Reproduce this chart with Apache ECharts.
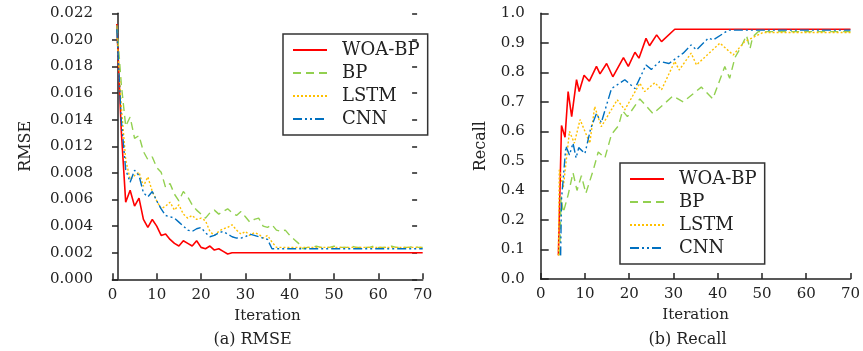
<!DOCTYPE html>
<html>
<head>
<meta charset="utf-8">
<script src="https://cdn.jsdelivr.net/npm/echarts@6/dist/echarts.min.js"></script>
<style>
    body { margin: 0; background: #fff; }
    #main { width: 863px; height: 351px; }
</style>
</head>
<body>
<div id="main"></div>
<script>
// tick labels as printed on the figure (note 0.010 and 0.3 are skipped on the original axes)
var rmseTicks = [0, 0.002, 0.004, 0.006, 0.008, 0.012, 0.014, 0.016, 0.018, 0.020, 0.022];
var rmseTickLabels = ['0.000', '0.002', '0.004', '0.006', '0.008', '0.012', '0.014', '0.016', '0.018', '0.020', '0.022'];
var recallTicks = [0, 0.1, 0.2, 0.4, 0.5, 0.6, 0.7, 0.8, 0.9, 1.0];
var recallTickLabels = ['0.0', '0.1', '0.2', '0.4', '0.5', '0.6', '0.7', '0.8', '0.9', '1.0'];
var names = ['WOA-BP', 'BP', 'LSTM', 'CNN'];

// RMSE per iteration (1..70)
var rmseWoaBp = [
    0.0212, 0.0132, 0.0058, 0.0067, 0.0055, 0.0061, 0.0045, 0.0039, 0.0045, 0.0040,
    0.0033, 0.0034, 0.0030, 0.0027, 0.0025, 0.0029, 0.0027, 0.0025, 0.0029, 0.0024,
    0.0023, 0.0025, 0.0022, 0.0023, 0.0021, 0.0019, 0.0020, 0.0020, 0.0020, 0.0020,
    0.0020, 0.0020, 0.0020, 0.0020, 0.0020, 0.0020, 0.0020, 0.0020, 0.0020, 0.0020,
    0.0020, 0.0020, 0.0020, 0.0020, 0.0020, 0.0020, 0.0020, 0.0020, 0.0020, 0.0020,
    0.0020, 0.0020, 0.0020, 0.0020, 0.0020, 0.0020, 0.0020, 0.0020, 0.0020, 0.0020,
    0.0020, 0.0020, 0.0020, 0.0020, 0.0020, 0.0020, 0.0020, 0.0020, 0.0020, 0.0020
];
var rmseBp = [
    0.0211, 0.0167, 0.0135, 0.0142, 0.0126, 0.0128, 0.0112, 0.0100, 0.0104, 0.0088,
    0.0081, 0.0069, 0.0072, 0.0064, 0.0059, 0.0066, 0.0062, 0.0056, 0.0052, 0.0049,
    0.0046, 0.0050, 0.0052, 0.0049, 0.0051, 0.0053, 0.0050, 0.0048, 0.0051, 0.0047,
    0.0043, 0.0045, 0.0046, 0.0040, 0.0039, 0.0041, 0.0037, 0.0036, 0.0037, 0.0033,
    0.0030, 0.0027, 0.0023, 0.0024, 0.0024, 0.0025, 0.0024, 0.0024, 0.0024, 0.0025,
    0.0024, 0.0024, 0.0024, 0.0025, 0.0024, 0.0024, 0.0024, 0.0024, 0.0025, 0.0024,
    0.0024, 0.0024, 0.0025, 0.0024, 0.0024, 0.0024, 0.0024, 0.0025, 0.0024, 0.0024
];
var rmseLstm = [
    0.0205, 0.0150, 0.0100, 0.0075, 0.0078, 0.0081, 0.0070, 0.0077, 0.0066, 0.0059,
    0.0053, 0.0055, 0.0058, 0.0052, 0.0056, 0.0049, 0.0046, 0.0048, 0.0045, 0.0046,
    0.0044, 0.0036, 0.0033, 0.0036, 0.0038, 0.0039, 0.0041, 0.0037, 0.0034, 0.0036,
    0.0033, 0.0035, 0.0034, 0.0031, 0.0033, 0.0028, 0.0024, 0.0024, 0.0024, 0.0024,
    0.0024, 0.0024, 0.0024, 0.0024, 0.0024, 0.0024, 0.0024, 0.0024, 0.0024, 0.0024,
    0.0024, 0.0024, 0.0024, 0.0024, 0.0024, 0.0024, 0.0024, 0.0024, 0.0024, 0.0024,
    0.0024, 0.0024, 0.0024, 0.0024, 0.0024, 0.0024, 0.0024, 0.0024, 0.0024, 0.0024
];
var rmseCnn = [
    0.0208, 0.0140, 0.0085, 0.0073, 0.0084, 0.0078, 0.0065, 0.0062, 0.0066, 0.0059,
    0.0053, 0.0048, 0.0047, 0.0046, 0.0043, 0.0040, 0.0037, 0.0036, 0.0038, 0.0039,
    0.0035, 0.0032, 0.0033, 0.0035, 0.0036, 0.0034, 0.0032, 0.0031, 0.0031, 0.0032,
    0.0034, 0.0033, 0.0032, 0.0031, 0.0030, 0.0023, 0.0023, 0.0023, 0.0023, 0.0023,
    0.0023, 0.0023, 0.0023, 0.0023, 0.0023, 0.0023, 0.0023, 0.0023, 0.0023, 0.0023,
    0.0023, 0.0023, 0.0023, 0.0023, 0.0023, 0.0023, 0.0023, 0.0023, 0.0023, 0.0023,
    0.0023, 0.0023, 0.0023, 0.0023, 0.0023, 0.0023, 0.0023, 0.0023, 0.0023, 0.0023
];

// Recall as [iteration, recall]
var recallWoaBp = [[4, 0.08], [4.7, 0.62], [5.5, 0.58], [6.2, 0.735], [7, 0.65], [8.1, 0.775], [8.7, 0.735],
    [9.8, 0.79], [11, 0.77], [12.6, 0.82], [13.4, 0.795], [14.9, 0.83], [16.3, 0.785], [18.7, 0.85],
    [19.8, 0.82], [21.3, 0.868], [22.2, 0.848], [23.8, 0.915], [24.6, 0.89], [26.2, 0.927],
    [27.3, 0.904], [30.3, 0.946], [70, 0.946]];
var recallBp = [[4.3, 0.08], [4.6, 0.36], [5.1, 0.25], [6.2, 0.37], [7.3, 0.46], [8.2, 0.40], [9.2, 0.45],
    [10.2, 0.38], [11.9, 0.47], [13, 0.53], [14.5, 0.51], [16, 0.59], [17.6, 0.62], [18.5, 0.67],
    [19.6, 0.65], [22.4, 0.71], [25.4, 0.66], [29.9, 0.72], [32.2, 0.70], [36.3, 0.75], [38.9, 0.71],
    [40.5, 0.775], [41.6, 0.82], [42.7, 0.78], [43.9, 0.85], [45.4, 0.89], [46.5, 0.925], [47.3, 0.88],
    [47.9, 0.92], [49.2, 0.938], [70, 0.938]];
var recallLstm = [[4, 0.08], [4.2, 0.47], [5.1, 0.41], [6.5, 0.60], [7.6, 0.56], [8.9, 0.64], [11.1, 0.56],
    [12.2, 0.684], [13.7, 0.616], [17.3, 0.707], [19, 0.673], [22.4, 0.763], [23.5, 0.735], [25.8, 0.765],
    [27.3, 0.741], [30.3, 0.837], [31.3, 0.808], [34, 0.865], [35.2, 0.825], [40.5, 0.899], [43.5, 0.859],
    [46.1, 0.904], [50.2, 0.935], [70, 0.935]];
var recallCnn = [[4.5, 0.08], [4.7, 0.34], [5.7, 0.55], [6.5, 0.52], [7.3, 0.56], [8, 0.51], [8.6, 0.545],
    [10, 0.525], [11.3, 0.61], [12.6, 0.66], [13.7, 0.63], [16, 0.745], [19, 0.775], [21.3, 0.745],
    [23.8, 0.825], [25, 0.81], [26.9, 0.837], [29, 0.83], [32.2, 0.865], [34, 0.893], [35.2, 0.876],
    [37.9, 0.916], [39, 0.91], [41.9, 0.938], [42.5, 0.943], [70, 0.943]];

var colors = ['#ff0000', '#92d050', '#ffc000', '#0070c0'];
var dashes = ['solid', [8, 5], [2, 2], [9, 3, 2, 3, 2, 3]];
var font = 'DejaVu Serif';

// position of a value on the printed (non-uniform) tick scale
function pos(v, ticks) {
    for (var i = 0; i < ticks.length - 1; i++) {
        if (v <= ticks[i + 1]) return i + (v - ticks[i]) / (ticks[i + 1] - ticks[i]);
    }
    return ticks.length - 1;
}

var chart = echarts.init(document.getElementById('main'));

var axisLine = {lineStyle: {color: '#222', width: 1.5}};
var labelStyle = {fontFamily: font, fontSize: 15, color: '#222'};

function xAxis(gridIndex) {
    return {
        gridIndex: gridIndex, type: 'value', min: 0, max: 70, interval: 10,
        name: 'Iteration', nameLocation: 'middle', nameGap: 29,
        nameTextStyle: {fontFamily: font, fontSize: 15, color: '#222'},
        axisLine: axisLine,
        axisTick: {inside: true, length: 6, lineStyle: {color: '#222', width: 1.5}},
        axisLabel: Object.assign({margin: 8}, labelStyle),
        splitLine: {show: false}
    };
}

var legendBase = {
    orient: 'vertical', itemWidth: 34, itemHeight: 10, itemGap: 5,
    padding: [7, 8, 7, 9], borderColor: '#333', borderWidth: 1.5,
    itemStyle: {opacity: 0},
    textStyle: {fontFamily: font, fontSize: 18, color: '#222', padding: [0, 0, 0, 10]},
    data: names
};

function series(name, idx, data, gridIdx, yIdx) {
    return {
        name: name, type: 'line', xAxisIndex: gridIdx, yAxisIndex: yIdx,
        data: data, symbol: 'none', animation: false,
        lineStyle: {color: colors[idx], width: idx === 0 ? 1.6 : 1.4, type: dashes[idx]},
        itemStyle: {color: colors[idx]}
    };
}

var rmseSets = [rmseWoaBp, rmseBp, rmseLstm, rmseCnn];
var recallSets = [recallWoaBp, recallBp, recallLstm, recallCnn];
var allSeries = [];
rmseSets.forEach(function (arr, k) {
    allSeries.push(series(names[k], k, arr.map(function (v, i) { return [i + 1, pos(v, rmseTicks)]; }), 0, 0));
});
recallSets.forEach(function (arr, k) {
    allSeries.push(series(names[k], k, arr.map(function (p) { return [p[0], pos(p[1], recallTicks)]; }), 1, 2));
});

chart.setOption({
    backgroundColor: '#fff',
    animation: false,
    grid: [
        {left: 112.4, top: 13.3, width: 310.3, height: 266},
        {left: 540.7, top: 13.3, width: 310.3, height: 265.7}
    ],
    xAxis: [xAxis(0), xAxis(1)],
    yAxis: [
        {
            gridIndex: 0, type: 'value', min: 0, max: rmseTicks.length - 1, interval: 1, offset: -5.6,
            name: 'RMSE', nameLocation: 'middle', nameGap: 84,
            nameTextStyle: {fontFamily: font, fontSize: 16, color: '#222'},
            axisLine: axisLine,
            axisTick: {length: 6, lineStyle: {color: '#222', width: 1.5}},
            axisLabel: Object.assign({margin: 25, formatter: function (v) { return rmseTickLabels[Math.round(v)]; }}, labelStyle),
            splitLine: {show: false}
        },
        {
            gridIndex: 0, type: 'value', min: 0, max: rmseTicks.length - 1, interval: 1, offset: -5.6,
            axisLine: {show: false},
            axisTick: {inside: true, length: 5, lineStyle: {color: '#222', width: 1.5}},
            axisLabel: {show: false}, splitLine: {show: false}
        },
        {
            gridIndex: 1, type: 'value', min: 0, max: recallTicks.length - 1, interval: 1,
            name: 'Recall', nameLocation: 'middle', nameGap: 52,
            nameTextStyle: {fontFamily: font, fontSize: 16, color: '#222'},
            axisLine: axisLine,
            axisTick: {inside: true, length: 8, lineStyle: {color: '#222', width: 1.5}},
            axisLabel: Object.assign({margin: 16, formatter: function (v) { return recallTickLabels[Math.round(v)]; }}, labelStyle),
            splitLine: {show: false}
        }
    ],
    legend: [
        Object.assign({left: 283, top: 34}, legendBase),
        Object.assign({left: 620, top: 163}, legendBase)
    ],
    graphic: [
        {type: 'text', x: 252.5, y: 340, style: {text: '(a) RMSE', font: '16px "DejaVu Serif"', fill: '#222', align: 'center', verticalAlign: 'middle'}},
        {type: 'text', x: 687.5, y: 340, style: {text: '(b) Recall', font: '16px "DejaVu Serif"', fill: '#222', align: 'center', verticalAlign: 'middle'}}
    ],
    series: allSeries
});
</script>
</body>
</html>
